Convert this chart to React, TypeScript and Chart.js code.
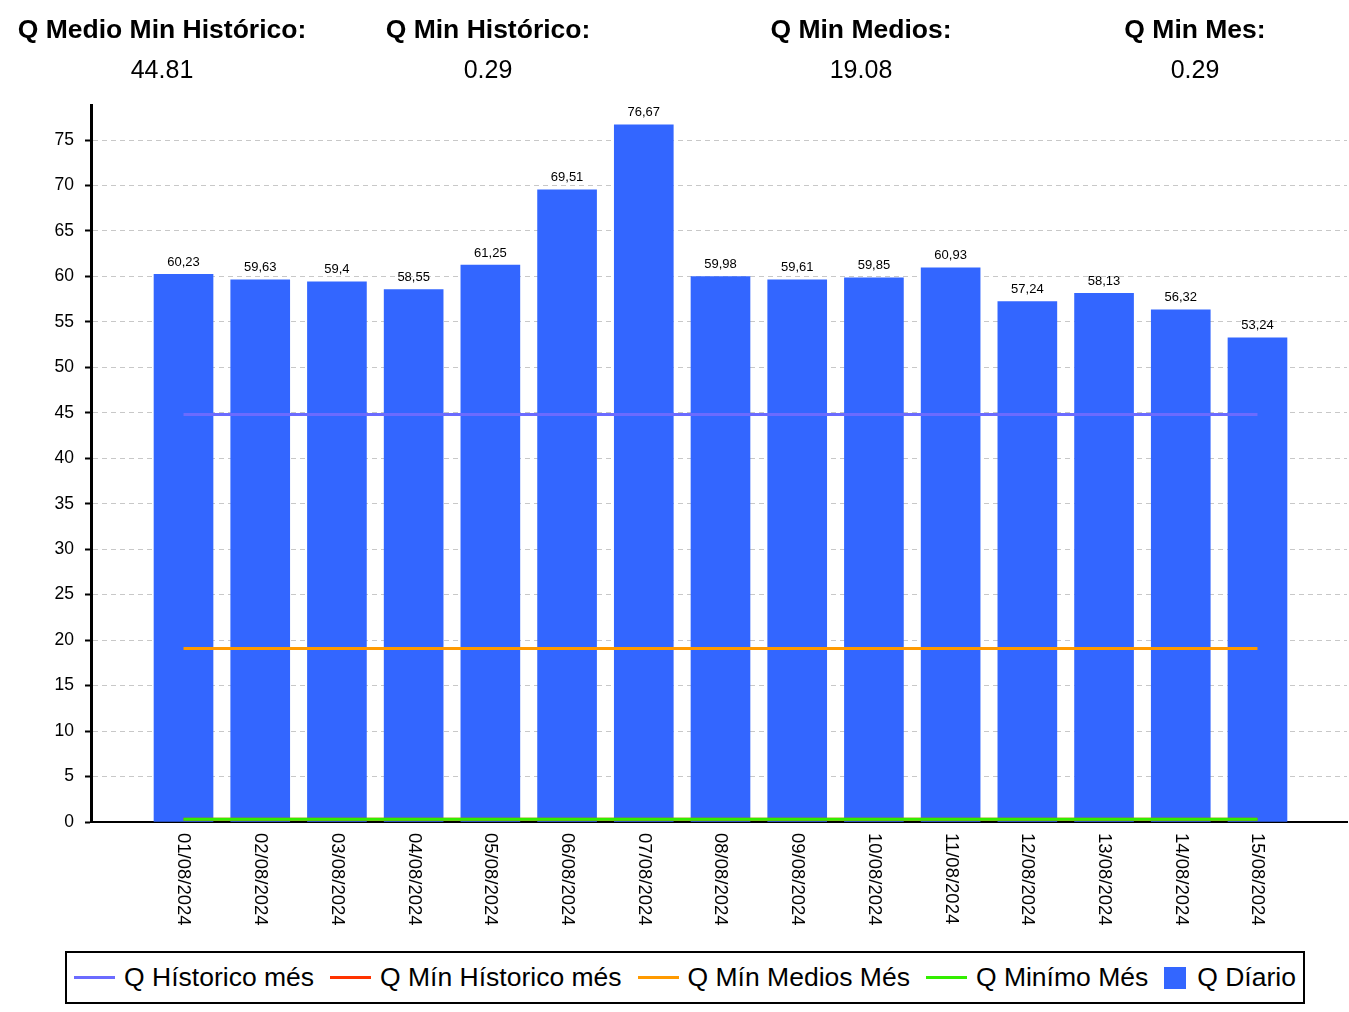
import React, { useEffect, useRef } from "react";
import { Chart, registerables } from "chart.js";

Chart.register(...registerables);

// ---------- data ----------
const categories = [
  "01/08/2024", "02/08/2024", "03/08/2024", "04/08/2024", "05/08/2024",
  "06/08/2024", "07/08/2024", "08/08/2024", "09/08/2024", "10/08/2024",
  "11/08/2024", "12/08/2024", "13/08/2024", "14/08/2024", "15/08/2024",
];
const qDiario = [60.23, 59.63, 59.4, 58.55, 61.25, 69.51, 76.67, 59.98, 59.61, 59.85, 60.93, 57.24, 58.13, 56.32, 53.24];
const qHistoricoMes = [44.81, 44.81, 44.81, 44.81, 44.81, 44.81, 44.81, 44.81, 44.81, 44.81, 44.81, 44.81, 44.81, 44.81, 44.81];
const qMinHistoricoMes = [0.29, 0.29, 0.29, 0.29, 0.29, 0.29, 0.29, 0.29, 0.29, 0.29, 0.29, 0.29, 0.29, 0.29, 0.29];
const qMinMediosMes = [19.08, 19.08, 19.08, 19.08, 19.08, 19.08, 19.08, 19.08, 19.08, 19.08, 19.08, 19.08, 19.08, 19.08, 19.08];
const qMinimoMes = [0.29, 0.29, 0.29, 0.29, 0.29, 0.29, 0.29, 0.29, 0.29, 0.29, 0.29, 0.29, 0.29, 0.29, 0.29];
const yTickValues = [0, 5, 10, 15, 20, 25, 30, 35, 40, 45, 50, 55, 60, 65, 70, 75];
const headerLabels = ["Q Medio Min Histórico:", "Q Min Histórico:", "Q Min Medios:", "Q Min Mes:"];
const headerValues = ["44.81", "0.29", "19.08", "0.29"];
const seriesNames = ["Q Hístorico més", "Q Mín Hístorico més", "Q Mín Medios Més", "Q Minímo Més", "Q Díario"];

// ---------- style / layout ----------
const FONT = "'Liberation Sans', Arial, Helvetica, sans-serif";
const COLORS = ["#6b6bff", "#ff3300", "#ff9a00", "#33ee00", "#3366ff"];
const HEADER_CENTERS = [162, 488, 861, 1195];
const CANVAS_W = 1349;
const CANVAS_H = 945;
const Y_AXIS_W = 91;
const X_AXIS_H = 123;
const TOP_PAD = 105;
const Y_MAX = 78.85;
const X_MIN = -1.206;
const X_MAX = 15.167;

const toPts = (arr: number[]) => arr.map((v, i) => ({ x: i, y: v }));

const valueLabelPlugin = {
  id: "valueLabels",
  afterDatasetsDraw(chart: any) {
    const ctx = chart.ctx;
    chart.data.datasets.forEach((ds: any, di: number) => {
      if (ds.type !== "bar") return;
      const meta = chart.getDatasetMeta(di);
      ctx.save();
      ctx.font = `13px ${FONT}`;
      ctx.fillStyle = "#000";
      ctx.textAlign = "center";
      ctx.textBaseline = "alphabetic";
      meta.data.forEach((el: any, i: number) => {
        const v = qDiario[i];
        ctx.fillText(String(v).replace(".", ","), el.x, el.y - 8.5);
      });
      ctx.restore();
    });
  },
};

const xLabelPlugin = {
  id: "xLabels",
  afterDraw(chart: any) {
    const ctx = chart.ctx;
    const xs = chart.scales.x;
    const top = chart.chartArea.bottom + 11;
    ctx.save();
    ctx.font = `18.5px ${FONT}`;
    ctx.fillStyle = "#000";
    ctx.textAlign = "left";
    ctx.textBaseline = "middle";
    categories.forEach((c, i) => {
      const x = xs.getPixelForValue(i);
      ctx.save();
      ctx.translate(x, top);
      ctx.rotate(Math.PI / 2);
      ctx.fillText(c, 0, 0);
      ctx.restore();
    });
    ctx.restore();
  },
};

function ChartCanvas() {
  const ref = useRef<HTMLCanvasElement | null>(null);
  useEffect(() => {
    if (!ref.current) return;
    const lineDs = (label: string, data: number[], color: string, order: number) => ({
      type: "line" as const,
      label,
      data: toPts(data),
      borderColor: color,
      backgroundColor: color,
      borderWidth: 3,
      pointRadius: 0,
      tension: 0,
      fill: false,
      order,
    });
    const chart = new Chart(ref.current, {
      type: "bar",
      data: {
        datasets: [
          lineDs(seriesNames[0], qHistoricoMes, COLORS[0], 4),
          lineDs(seriesNames[1], qMinHistoricoMes, COLORS[1], 5),
          lineDs(seriesNames[2], qMinMediosMes, COLORS[2], 3),
          lineDs(seriesNames[3], qMinimoMes, COLORS[3], 2),
          {
            type: "bar" as const,
            label: seriesNames[4],
            data: toPts(qDiario),
            backgroundColor: COLORS[4],
            borderWidth: 0,
            barThickness: 59,
            order: 10,
          } as any,
        ],
      },
      options: {
        responsive: false,
        animation: false,
        devicePixelRatio: 1,
        layout: { padding: { top: TOP_PAD, right: 2, bottom: 0, left: 0 } },
        plugins: {
          legend: { display: false },
          tooltip: { enabled: false },
          title: { display: false },
        },
        scales: {
          x: {
            type: "linear",
            offset: false,
            min: X_MIN,
            max: X_MAX,
            grid: { display: false, offset: false },
            border: { display: true, color: "#000", width: 2 },
            ticks: { display: false },
            afterFit: (s: any) => {
              s.height = X_AXIS_H;
            },
          },
          y: {
            type: "linear",
            min: 0,
            max: Y_MAX,
            afterBuildTicks: (s: any) => {
              s.ticks = yTickValues.map((v) => ({ value: v }));
            },
            afterFit: (s: any) => {
              s.width = Y_AXIS_W;
            },
            grid: {
              color: "#c8c8c8",
              lineWidth: 1,
              tickColor: "#000",
              tickLength: 6,
              tickWidth: 2,
            },
            border: { display: true, color: "#000", width: 3, dash: [5, 4] },
            ticks: {
              color: "#000",
              padding: 11,
              font: { family: FONT, size: 17.5 },
              callback: (v: any) => String(v),
            },
          },
        },
      } as any,
      plugins: [valueLabelPlugin, xLabelPlugin],
    });
    return () => chart.destroy();
  }, []);
  return (
    <canvas
      ref={ref}
      width={CANVAS_W}
      height={CANVAS_H}
      style={{ position: "absolute", left: 0, top: 0, width: CANVAS_W, height: CANVAS_H, display: "block" }}
    />
  );
}

export default function App() {
  return (
    <div
      style={{
        position: "absolute",
        left: 0,
        top: 0,
        width: 1349,
        height: 1012,
        background: "#fff",
        fontFamily: FONT,
        color: "#000",
        overflow: "hidden",
      }}
    >
      <ChartCanvas />
      {headerLabels.map((h, i) => (
        <div
          key={"h" + i}
          style={{
            position: "absolute",
            left: HEADER_CENTERS[i] - 200,
            width: 400,
            top: 16,
            textAlign: "center",
            fontSize: 26.5,
            lineHeight: "26px",
            fontWeight: "bold",
            whiteSpace: "nowrap",
          }}
        >
          {h}
        </div>
      ))}
      {headerValues.map((v, i) => (
        <div
          key={"v" + i}
          style={{
            position: "absolute",
            left: HEADER_CENTERS[i] - 200,
            width: 400,
            top: 57,
            textAlign: "center",
            fontSize: 25,
            lineHeight: "25px",
            whiteSpace: "nowrap",
          }}
        >
          {v}
        </div>
      ))}
      <div
        style={{
          position: "absolute",
          left: 65,
          top: 951,
          width: 1240,
          height: 53,
          boxSizing: "border-box",
          border: "2px solid #000",
          display: "flex",
          alignItems: "center",
          justifyContent: "center",
          fontSize: 26.5,
          whiteSpace: "nowrap",
        }}
      >
        {seriesNames.map((n, i) => (
          <div
            key={n}
            style={{ display: "flex", alignItems: "center", marginRight: i < seriesNames.length - 1 ? 16 : 0 }}
          >
            {i < 4 ? (
              <span style={{ display: "inline-block", width: 41, height: 3, background: COLORS[i], marginRight: 9 }} />
            ) : (
              <span style={{ display: "inline-block", width: 22, height: 22, background: COLORS[i], marginRight: 11 }} />
            )}
            <span>{n}</span>
          </div>
        ))}
      </div>
    </div>
  );
}
